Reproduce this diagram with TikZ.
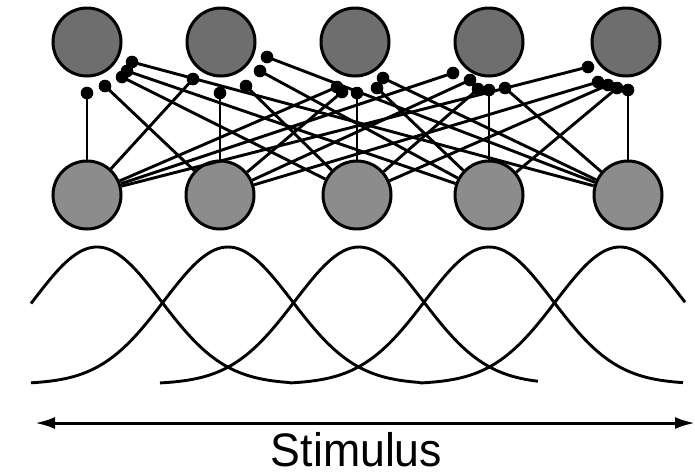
\documentclass[tikz,border=0pt]{standalone}
\usepackage{fontspec}
\setmainfont{Liberation Sans}
\usetikzlibrary{arrows.meta}

\definecolor{outgray}{HTML}{6E6E6E}
\definecolor{ingray}{HTML}{8C8C8C}

\tikzset{
  unit/.style={circle, draw=black, line width=3pt, minimum size=68pt, inner sep=0pt},
  outunit/.style={unit, fill=outgray},
  inunit/.style={unit, fill=ingray},
  synapse/.style={line width=2.9pt, black},
  tuning/.style={line width=2.9pt, black},
  axis/.style={line width=3pt, black, {Latex[length=20pt,width=12pt]}-{Latex[length=20pt,width=12pt]}}
}

\begin{document}
\begin{tikzpicture}[x=1pt, y=-1pt]
\useasboundingbox (0,0) rectangle (695,475);

% output layer
\node[outunit] (t1) at (87,42) {};
\node[outunit] (t2) at (221,42) {};
\node[outunit] (t3) at (355,42) {};
\node[outunit] (t4) at (489,42) {};
\node[outunit] (t5) at (626,42) {};

% input layer
\node[inunit] (b1) at (87,195) {};
\node[inunit] (b2) at (220,195) {};
\node[inunit] (b3) at (357,195) {};
\node[inunit] (b4) at (489,195) {};
\node[inunit] (b5) at (628,195) {};

% synaptic terminals: s<output><input>
\coordinate (s11) at (87,93);
\coordinate (s12) at (105,86);
\coordinate (s13) at (122,77);
\coordinate (s14) at (127,71);
\coordinate (s15) at (132,62);

\coordinate (s21) at (193,79);
\coordinate (s22) at (220,93);
\coordinate (s23) at (246,86);
\coordinate (s24) at (260,71);
\coordinate (s25) at (267,57);

\coordinate (s31) at (337,87);
\coordinate (s32) at (342,92);
\coordinate (s33) at (357,93);
\coordinate (s34) at (377,88);
\coordinate (s35) at (383,78);

\coordinate (s41) at (453,73);
\coordinate (s42) at (470,80);
\coordinate (s43) at (478,89);
\coordinate (s44) at (489,90);
\coordinate (s45) at (505,88);

\coordinate (s51) at (588,67);
\coordinate (s52) at (598,82);
\coordinate (s53) at (608,85);
\coordinate (s54) at (617,88);
\coordinate (s55) at (628,90);

% all-to-all connections with round terminals
\foreach \o in {1,...,5}{
  \foreach \i in {1,...,5}{
    \draw[synapse] (b\i) -- (s\o\i);
    \fill (s\o\i) circle (6.3pt);
  }
}

% tuning curves
\foreach \mu/\lo/\hi in {97/31/290, 228/31/420, 359/160/538, 489/290/683, 620/420/685}{
  \draw[tuning] plot[domain=\lo:\hi, samples=90, smooth]
    (\x, {384-137*exp(-0.5*((\x-\mu)/64)^2)});
}

% stimulus axis
\coordinate (axl) at (35,423);
\coordinate (axr) at (695,423);
\draw[axis] (axl) -- (axr);
\node[anchor=base, inner sep=0pt, xscale=0.95, font=\fontsize{47}{47}\selectfont] (lbl) at (356.5,466) {Stimulus};

\end{tikzpicture}
\end{document}
